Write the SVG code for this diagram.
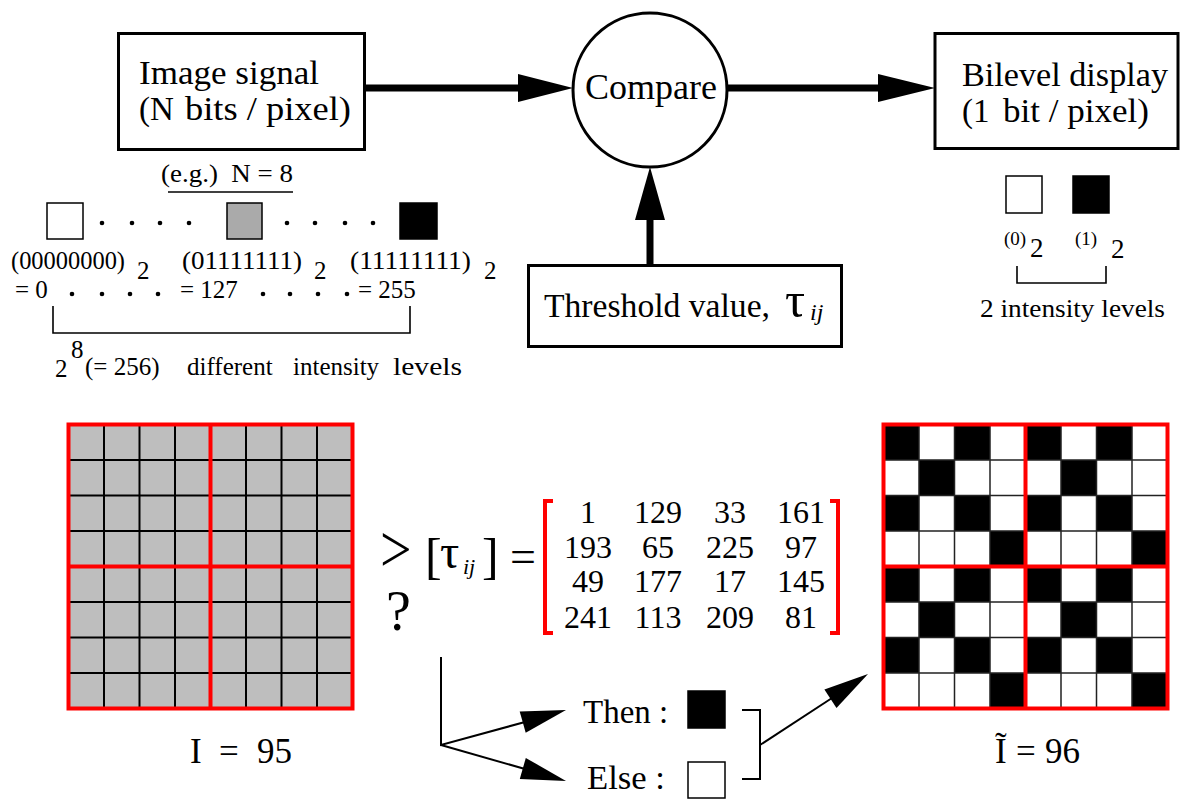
<svg xmlns="http://www.w3.org/2000/svg" xmlns:xlink="http://www.w3.org/1999/xlink" width="1183" height="800" viewBox="0 0 1183 800">
<style>
text{font-family:"Liberation Serif","Times New Roman",Times,serif;fill:#000}
.big{font-size:33px}
.med{font-size:25px}
.sm{font-size:19px}
.box{fill:#fff;stroke:#000;stroke-width:3}
.thin{fill:none;stroke:#000;stroke-width:1.6}
.thick{fill:none;stroke:#000;stroke-width:7}
.sq{stroke:#000;stroke-width:1.5}
.red{fill:none;stroke:#f00;stroke-width:4}
.gl{fill:none;stroke:#000;stroke-width:2}
.gl2{fill:none;stroke:#222;stroke-width:1.5}
</style>
<defs>
<g id="blk">
<rect x="0" y="0" width="35.5" height="35.5"/>
<rect x="71" y="0" width="35.5" height="35.5"/>
<rect x="35.5" y="35.5" width="35.5" height="35.5"/>
<rect x="0" y="71" width="35.5" height="35.5"/>
<rect x="71" y="71" width="35.5" height="35.5"/>
<rect x="106.5" y="106.5" width="35.5" height="35.5"/>
</g>
</defs>
<rect width="1183" height="800" fill="#fff"/>

<g id="connectors">
<line class="thick" x1="365" y1="88" x2="522" y2="88"/>
<polygon points="518,74 573,88 518,102"/>
<line class="thick" x1="728" y1="88" x2="882" y2="88"/>
<polygon points="878,74 935,88 878,102"/>
<line class="thick" x1="650" y1="265" x2="650" y2="216"/>
<polygon points="635,220 650,167 665,220"/>
<polyline class="gl" points="441,657 441,745 525,722"/>
<polygon points="566,710 525.7,732.7 519.7,711.5"/>
<line class="gl" x1="441" y1="745" x2="525" y2="769"/>
<polygon points="566,781 519.8,779.1 525.8,757.9"/>
<polyline class="gl" points="742,710 760,710 760,779 742,779"/>
<line class="gl" x1="760" y1="745" x2="832" y2="698"/>
<polygon points="868,674 836.5,707.9 824.4,689.5"/>
</g>

<g id="image-signal">
<rect class="box" x="118.5" y="33.5" width="246" height="116"/>
<text class="big" x="139" y="84" textLength="180" lengthAdjust="spacingAndGlyphs">Image signal</text>
<text class="big" y="120"><tspan x="139">(N</tspan><tspan x="185" textLength="166" lengthAdjust="spacingAndGlyphs">bits / pixel)</tspan></text>
</g>

<g id="compare">
<circle cx="650" cy="90" r="77" fill="#fff" stroke="#000" stroke-width="3"/>
<text x="651" y="99" text-anchor="middle" style="font-size:36px">Compare</text>
</g>

<g id="bilevel-display">
<rect class="box" x="935" y="33.5" width="243" height="115"/>
<text class="big" x="962" y="86" textLength="206" lengthAdjust="spacingAndGlyphs">Bilevel display</text>
<text class="big" y="122"><tspan x="962">(1</tspan><tspan x="1003" textLength="146" lengthAdjust="spacingAndGlyphs">bit / pixel)</tspan></text>
</g>

<g id="threshold">
<rect class="box" x="528.5" y="265.5" width="313" height="81"/>
<text style="font-size:34px" x="544" y="317" textLength="226" lengthAdjust="spacingAndGlyphs">Threshold value,</text>
<text x="785" y="317" style="font-size:50px">τ</text>
<text x="810" y="320" style="font-size:24px;font-style:italic">ij</text>
</g>

<g id="intensity-256">
<text style="font-size:25px" x="161" y="182" xml:space="preserve" textLength="132" lengthAdjust="spacingAndGlyphs">(e.g.)  N = 8</text>
<line class="thin" x1="168" y1="192" x2="293" y2="192"/>
<rect class="sq" x="47" y="203" width="36" height="36" fill="#fff"/>
<rect class="sq" x="227" y="203" width="35" height="36" fill="#aaa"/>
<rect class="sq" x="400" y="203" width="37" height="36" fill="#000"/>
<g fill="#000">
<circle cx="102" cy="223" r="2.3"/><circle cx="132" cy="223" r="2.3"/><circle cx="160" cy="223" r="2.3"/><circle cx="189" cy="223" r="2.3"/>
<circle cx="287" cy="223" r="2.3"/><circle cx="315" cy="223" r="2.3"/><circle cx="345" cy="223" r="2.3"/><circle cx="373" cy="223" r="2.3"/>
<circle cx="72" cy="294" r="2.3"/><circle cx="102" cy="294" r="2.3"/><circle cx="130" cy="294" r="2.3"/><circle cx="158" cy="294" r="2.3"/>
<circle cx="263" cy="294" r="2.3"/><circle cx="290" cy="294" r="2.3"/><circle cx="318" cy="294" r="2.3"/><circle cx="347" cy="294" r="2.3"/>
</g>
<text class="med" x="11" y="269" textLength="114" lengthAdjust="spacingAndGlyphs">(00000000)</text>
<text class="med" x="137" y="279">2</text>
<text class="med" x="182" y="269" textLength="120" lengthAdjust="spacingAndGlyphs">(01111111)</text>
<text class="med" x="314" y="279">2</text>
<text class="med" x="350" y="269" textLength="121" lengthAdjust="spacingAndGlyphs">(11111111)</text>
<text class="med" x="484" y="279">2</text>
<text class="med" x="15" y="298">= 0</text>
<text class="med" x="180" y="298">= 127</text>
<text class="med" x="358" y="298">= 255</text>
<polyline class="thin" points="53,306 53,333 410,333 410,306"/>
<text class="med" x="55" y="377">2</text>
<text class="med" x="71" y="358">8</text>
<text class="med" y="375"><tspan x="85">(= 256)</tspan><tspan x="187">different</tspan><tspan x="293">intensity</tspan><tspan x="393" textLength="69" lengthAdjust="spacingAndGlyphs">levels</tspan></text>
</g>

<g id="intensity-2">
<rect class="sq" x="1006" y="176" width="36" height="37" fill="#fff"/>
<rect class="sq" x="1073" y="176" width="36" height="37" fill="#000"/>
<text class="sm" x="1004" y="245">(0)</text>
<text style="font-size:27px" x="1030" y="257">2</text>
<text class="sm" x="1075" y="245">(1)</text>
<text style="font-size:27px" x="1111" y="258">2</text>
<polyline class="thin" points="1017,266 1017,283 1106,283 1106,266"/>
<text style="font-size:26px" x="980" y="317" textLength="185" lengthAdjust="spacingAndGlyphs">2 intensity levels</text>
</g>

<g id="input-image">
<rect x="68.5" y="424.5" width="284" height="284" fill="#bebebe"/>
<path class="gl" d="M104 424.5V708.5M139.5 424.5V708.5M175 424.5V708.5M246 424.5V708.5M281.5 424.5V708.5M317 424.5V708.5M68.5 460H352.5M68.5 495.5H352.5M68.5 531H352.5M68.5 602H352.5M68.5 637.5H352.5M68.5 673H352.5"/>
<rect class="red" x="68.5" y="424.5" width="284" height="284"/>
<path class="red" d="M210.5 424.5V708.5M68.5 566.5H352.5"/>
<text style="font-size:35px" y="763"><tspan x="190">I</tspan><tspan x="219">=</tspan><tspan x="257">95</tspan></text>
</g>

<g id="comparison">
<text transform="translate(380,572) scale(1,1.2)" style="font-size:56px">&gt;</text>
<text x="386" y="630" style="font-size:56px">?</text>
<text x="425" y="573" style="font-size:50px">[</text>
<text x="440" y="568" style="font-size:48px">τ</text>
<text x="463" y="574" style="font-size:22px;font-style:italic">ij</text>
<text x="482" y="573" style="font-size:50px">]</text>
<text x="510" y="572" style="font-size:46px">=</text>
<polyline class="red" points="553,501 545,501 545,633 553,633"/>
<polyline class="red" points="830,501 838,501 838,633 830,633"/>
<g style="font-size:32px" text-anchor="middle">
<text x="588" y="523">1</text><text x="658" y="523">129</text><text x="730" y="523">33</text><text x="801" y="523">161</text>
<text x="588" y="558">193</text><text x="658" y="558">65</text><text x="730" y="558">225</text><text x="801" y="558">97</text>
<text x="588" y="592">49</text><text x="658" y="592">177</text><text x="730" y="592">17</text><text x="801" y="592">145</text>
<text x="588" y="628">241</text><text x="658" y="628">113</text><text x="730" y="628">209</text><text x="801" y="628">81</text>
</g>
</g>

<g id="then-else">
<text style="font-size:33px" x="583" y="723">Then :</text>
<rect class="sq" x="688" y="691" width="37" height="37" fill="#000"/>
<text style="font-size:33px" x="587" y="789" textLength="78" lengthAdjust="spacingAndGlyphs">Else :</text>
<rect class="sq" x="688" y="762" width="37" height="36" fill="#fff"/>
</g>

<g id="output-image">
<rect x="883.5" y="424.5" width="284" height="284" fill="#fff"/>
<g fill="#000">
<use xlink:href="#blk" x="883.5" y="424.5"/>
<use xlink:href="#blk" x="1025.5" y="424.5"/>
<use xlink:href="#blk" x="883.5" y="566.5"/>
<use xlink:href="#blk" x="1025.5" y="566.5"/>
</g>
<path class="gl2" d="M919 424.5V708.5M954.5 424.5V708.5M990 424.5V708.5M1061 424.5V708.5M1096.5 424.5V708.5M1132 424.5V708.5M883.5 460H1167.5M883.5 495.5H1167.5M883.5 531H1167.5M883.5 602H1167.5M883.5 637.5H1167.5M883.5 673H1167.5"/>
<rect class="red" x="883.5" y="424.5" width="284" height="284"/>
<path class="red" d="M1025.5 424.5V708.5M883.5 566.5H1167.5"/>
<text style="font-size:35px" y="763"><tspan x="995">Ĩ</tspan><tspan x="1016">=</tspan><tspan x="1045">96</tspan></text>
</g>
</svg>
